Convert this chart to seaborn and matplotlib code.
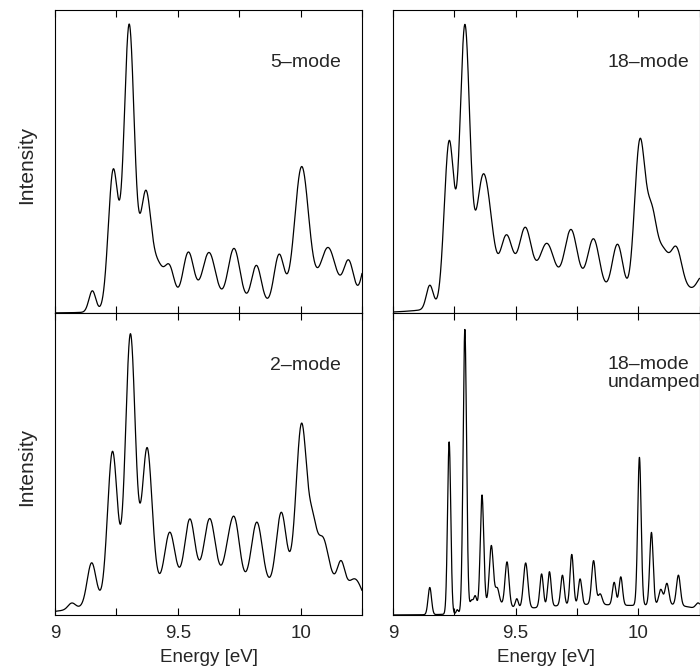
import numpy as np
import pandas as pd
import seaborn as sns
import matplotlib
matplotlib.use("Agg")
import matplotlib.pyplot as plt
from matplotlib.ticker import FixedLocator, NullFormatter

# ---- data: vibronic bands (centre eV, height, width eV) ----
centers_5 = [9.152, 9.237, 9.302, 9.370, 9.420, 9.465, 9.543, 9.627, 9.729, 9.820,
             9.912, 10.004, 10.112, 10.196, 10.270, 9.600, 10.100]
heights_5 = [0.07, 0.46, 0.935, 0.375, 0.11, 0.12, 0.162, 0.16, 0.18, 0.13,
             0.157, 0.42, 0.135, 0.115, 0.15, 0.04, 0.08]
widths_5 = [0.014, 0.02, 0.021, 0.022, 0.02, 0.02, 0.022, 0.026, 0.024, 0.02,
            0.02, 0.028, 0.028, 0.02, 0.02, 0.2, 0.12]

centers_18 = [9.150, 9.229, 9.293, 9.365, 9.400, 9.462, 9.539, 9.627, 9.726, 9.818,
              9.916, 10.007, 10.055, 10.100, 10.155, 10.265, 9.650, 10.200]
heights_18 = [0.078, 0.54, 0.905, 0.38, 0.10, 0.18, 0.19, 0.13, 0.18, 0.165,
              0.17, 0.525, 0.25, 0.157, 0.14, 0.075, 0.10, 0.07]
widths_18 = [0.014, 0.02, 0.02, 0.026, 0.02, 0.025, 0.025, 0.028, 0.025, 0.024,
             0.022, 0.022, 0.02, 0.025, 0.022, 0.022, 0.25, 0.06]

centers_2 = [9.068, 9.149, 9.234, 9.307, 9.375, 9.467, 9.549, 9.630, 9.703, 9.732,
             9.822, 9.921, 10.004, 10.050, 10.090, 10.165, 10.225, 9.600, 10.080]
heights_2 = [0.02, 0.14, 0.49, 0.86, 0.465, 0.167, 0.2, 0.2, 0.07, 0.195,
             0.21, 0.236, 0.51, 0.13, 0.13, 0.083, 0.06, 0.12, 0.1]
widths_2 = [0.015, 0.018, 0.02, 0.02, 0.02, 0.02, 0.02, 0.022, 0.018, 0.02,
            0.022, 0.02, 0.022, 0.015, 0.022, 0.015, 0.025, 0.28, 0.12]

centers_und = [9.150, 9.229, 9.262, 9.293, 9.320, 9.335, 9.363, 9.401, 9.425, 9.465,
               9.505, 9.541, 9.606, 9.638, 9.691, 9.729, 9.763, 9.818, 9.845, 9.902,
               9.929, 10.005, 10.054, 10.092, 10.117, 10.164, 10.245,
               9.800, 9.400, 10.150]
heights_und = [0.09, 0.57, 0.012, 0.935, 0.03, 0.04, 0.365, 0.19, 0.05, 0.145,
               0.03, 0.15, 0.11, 0.115, 0.10, 0.167, 0.085, 0.145, 0.035, 0.075,
               0.094, 0.49, 0.24, 0.05, 0.07, 0.10, 0.02,
               0.035, 0.03, 0.02]
widths_und = [0.007, 0.0065, 0.004, 0.007, 0.006, 0.006, 0.007, 0.008, 0.008, 0.008,
              0.006, 0.009, 0.007, 0.007, 0.007, 0.007, 0.007, 0.008, 0.008, 0.007,
              0.007, 0.007, 0.007, 0.008, 0.008, 0.008, 0.01,
              0.25, 0.06, 0.1]

panel_labels = ["5–mode", "18–mode", "2–mode", "18–mode\nundamped"]
tick_major = [9, 9.5, 10]
tick_labels = ["9", "9.5", "10"]
tick_minor = [9.25, 9.75, 10.25]

energy = np.linspace(9.0, 10.25, 4001)


def spectrum(c, h, w):
    c = np.asarray(c)[:, None]
    h = np.asarray(h)[:, None]
    w = np.asarray(w)[:, None]
    return (h * np.exp(-(energy[None, :] - c) ** 2 / (2 * w ** 2))).sum(axis=0)


frames = []
for name, (c, h, w) in zip(panel_labels,
                           [(centers_5, heights_5, widths_5),
                            (centers_18, heights_18, widths_18),
                            (centers_2, heights_2, widths_2),
                            (centers_und, heights_und, widths_und)]):
    frames.append(pd.DataFrame({"energy": energy, "intensity": spectrum(c, h, w), "panel": name}))
df = pd.concat(frames, ignore_index=True)

sns.set_theme(style="ticks")
plt.rcParams['font.family'] = ['Liberation Sans', 'DejaVu Sans']

fig = plt.figure(figsize=(7.0, 6.71), dpi=100)
W, H = 700.0, 671.0
rects = [
    [55 / W, 1 - 313 / H, 307 / W, 303 / H],
    [393 / W, 1 - 313 / H, 306.5 / W, 303 / H],
    [55 / W, 1 - 615 / H, 307 / W, 302 / H],
    [393 / W, 1 - 615 / H, 306.5 / W, 302 / H],
]

for i, (name, rect) in enumerate(zip(panel_labels, rects)):
    ax = fig.add_axes(rect)
    sub = df[df["panel"] == name]
    sns.lineplot(data=sub, x="energy", y="intensity", ax=ax, color="black",
                 linewidth=0.9, estimator=None)
    ax.set_xlim(9.0, 10.25)
    ax.set_ylim(0, 1.0)
    ax.set_yticks([])
    ax.xaxis.set_major_locator(FixedLocator(tick_major))
    ax.xaxis.set_minor_locator(FixedLocator(tick_minor))
    ax.tick_params(axis="x", which="both", direction="in", top=True, bottom=True,
                   length=5, width=0.8, color="black")
    for sp in ax.spines.values():
        sp.set_color("black")
        sp.set_linewidth(0.8)
    if i >= 2:
        ax.set_xticklabels(tick_labels)
        ax.tick_params(axis="x", which="major", labelsize=13.5, pad=7)
        ax.set_xlabel("Energy [eV]", fontsize=13.5, labelpad=5)
    else:
        ax.xaxis.set_major_formatter(NullFormatter())
        ax.set_xlabel("")
    if i % 2 == 0:
        ax.set_ylabel("Intensity", fontsize=15)
        ax.yaxis.set_label_coords(-0.062, 0.49)
    else:
        ax.set_ylabel("")
    ypos = 0.80 if i == 3 else 0.826
    ax.text(0.70, ypos, name, transform=ax.transAxes, ha="left", va="center",
            fontsize=14, linespacing=1.1)

fig.savefig("out.png", dpi=100)
